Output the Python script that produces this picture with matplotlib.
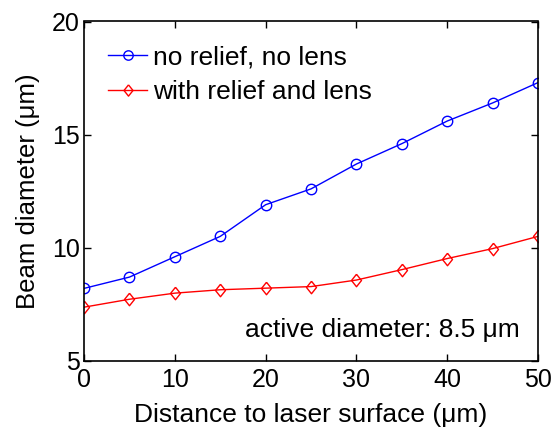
import matplotlib.pyplot as plt

plt.rcParams['font.family'] = ['Liberation Sans', 'DejaVu Sans']

# data
distance = [0, 5, 10, 15, 20, 25, 30, 35, 40, 45, 50]
no_relief = [8.2, 8.7, 9.6, 10.5, 11.9, 12.6, 13.7, 14.6, 15.6, 16.4, 17.3]
with_relief = [7.37, 7.72, 7.99, 8.14, 8.21, 8.28, 8.57, 9.03, 9.52, 9.96, 10.5]
series_labels = ['no relief, no lens', 'with relief and lens']
xticks = [0, 10, 20, 30, 40, 50]
yticks = [5, 10, 15, 20]

# MATLAB-like diamond, a bit wider than matplotlib's thin 'd'
diamond = [(0, 1), (0.8, 0), (0, -1), (-0.8, 0), (0, 1)]

fig = plt.figure(figsize=(5.53, 4.30), dpi=100)
ax = fig.add_axes([0.152, 0.161, 0.821, 0.789])

ax.plot(distance, no_relief, color='blue', lw=1, marker='o', ms=7.5,
        mfc='none', mec='blue', mew=1, label=series_labels[0])
ax.plot(distance, with_relief, color='red', lw=1, marker=diamond, ms=9,
        mfc='none', mec='red', mew=1, label=series_labels[1])

ax.set_xlim(0, 50)
ax.set_ylim(5, 20)
ax.set_xticks(xticks)
ax.set_yticks(yticks)
ax.tick_params(direction='in', length=5, width=1, labelsize=18,
               top=True, right=True)
ax.tick_params(axis='x', pad=5)
ax.tick_params(axis='y', pad=3)
for s in ax.spines.values():
    s.set_linewidth(1.2)

ax.set_xlabel('Distance to laser surface (\u03bcm)', fontsize=19, labelpad=8)
ax.set_ylabel('Beam diameter (\u03bcm)', fontsize=18.5, labelpad=9)

ax.text(0.96, 0.09, 'active diameter: 8.5 \u03bcm', transform=ax.transAxes,
        ha='right', va='center', fontsize=19)

leg = ax.legend(loc='upper left', frameon=False, fontsize=19, numpoints=1,
                handlelength=1.5, handletextpad=0.2, markerscale=0.9,
                borderaxespad=0.5, labelspacing=0.4)

fig.savefig('out.png', dpi=100)
